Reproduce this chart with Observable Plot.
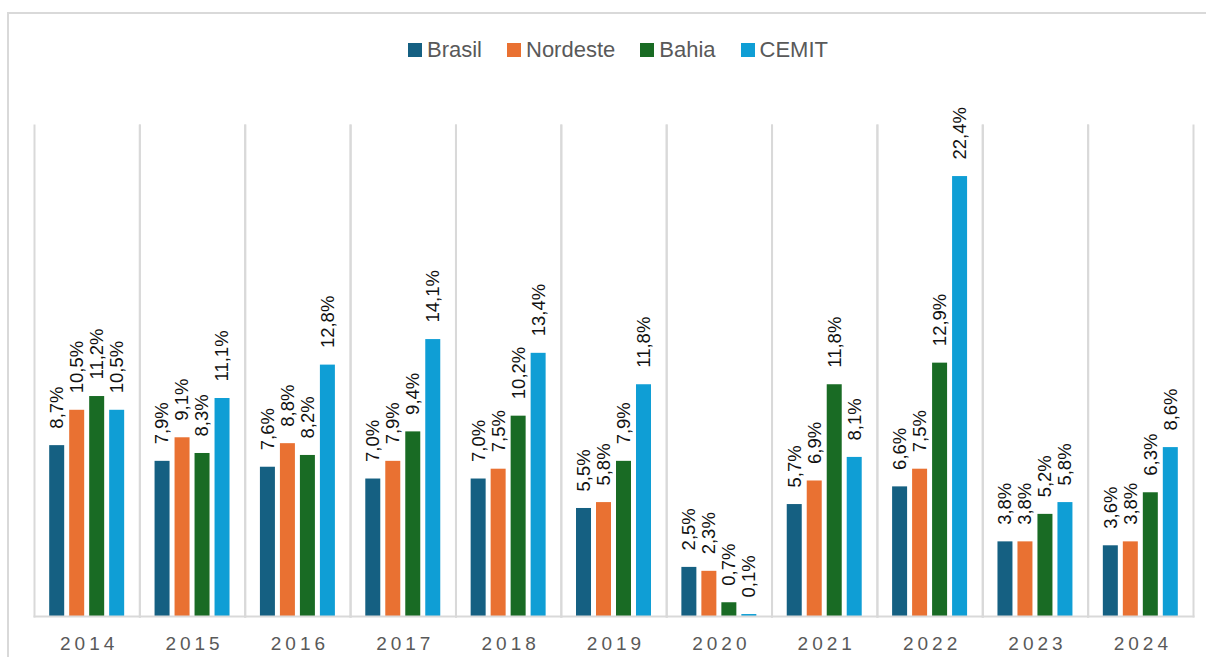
<!DOCTYPE html>
<html>
<head>
<meta charset="utf-8">
<script src="https://cdn.jsdelivr.net/npm/d3@7"></script>
<script src="https://cdn.jsdelivr.net/npm/@observablehq/plot@0.6"></script>
<style>
  html, body { margin: 0; padding: 0; background: #fff; width: 1206px; height: 657px; overflow: hidden; }
  #border { position: absolute; left: 7px; top: 12px; width: 1300px; height: 700px; border: 2px solid #d9d9d9; box-sizing: border-box; }
  #legend { position: absolute; left: 0; top: 37px; width: 1236px; display: flex; justify-content: center; gap: 25px;
            font-family: "Liberation Sans", Arial, sans-serif; font-size: 22px; color: #595959; }
  #legend .item { display: flex; align-items: center; gap: 5px; }
  #legend .sw { width: 14px; height: 14px; display: inline-block; }
  #chart { position: absolute; left: 0; top: 0; }
  #chart g[aria-label="fx-axis tick label"] text { letter-spacing: 4px; }
</style>
</head>
<body>
<div id="border"></div>
<div id="legend"></div>
<div id="chart"></div>
<script>
const years = ["2014","2015","2016","2017","2018","2019","2020","2021","2022","2023","2024"];
const seriesNames = ["Brasil","Nordeste","Bahia","CEMIT"];
const colors = ["#156082","#E97132","#196B24","#0F9ED5"];
const brasil   = [8.7, 7.9, 7.6, 7.0, 7.0, 5.5, 2.5, 5.7, 6.6, 3.8, 3.6];
const nordeste = [10.5, 9.1, 8.8, 7.9, 7.5, 5.8, 2.3, 6.9, 7.5, 3.8, 3.8];
const bahia    = [11.2, 8.3, 8.2, 9.4, 10.2, 7.9, 0.7, 11.8, 12.9, 5.2, 6.3];
const cemit    = [10.5, 11.1, 12.8, 14.1, 13.4, 11.8, 0.1, 8.1, 22.4, 5.8, 8.6];

const seriesValues = [brasil, nordeste, bahia, cemit];
const data = [];
years.forEach((y, i) => {
  seriesNames.forEach((s, j) => data.push({year: y, series: s, value: seriesValues[j][i]}));
});
const fmt = v => v.toFixed(1).replace(".", ",") + "%";

// legend
const legend = document.getElementById("legend");
seriesNames.forEach((s, j) => {
  const it = document.createElement("div");
  it.className = "item";
  it.innerHTML = `<span class="sw" style="background:${colors[j]}"></span><span>${s}</span>`;
  legend.appendChild(it);
});

const chart = Plot.plot({
  width: 1206,
  height: 657,
  marginTop: 125,
  marginBottom: 41,
  marginLeft: 34,
  marginRight: 13,
  style: {fontFamily: "'Liberation Sans', Arial, sans-serif", background: "transparent"},
  fx: {domain: years, padding: 0, round: false, label: null},
  x: {domain: seriesNames, paddingInner: 0.25, paddingOuter: 0.76, round: false, axis: null},
  y: {domain: [0, 25], axis: null},
  color: {domain: seriesNames, range: colors},
  marks: [
    Plot.barY(data, {fx: "year", x: "series", y: "value", fill: "series"}),
    Plot.text(data, {fx: "year", x: "series", y: "value", text: d => fmt(d.value),
      rotate: -90, textAnchor: "start", lineAnchor: "middle", dy: -17,
      fontSize: 18.5, fill: "#111"}),
    Plot.frame({anchor: "left", stroke: "#d9d9d9", strokeWidth: 2}),
    Plot.frame({anchor: "right", stroke: "#d9d9d9", strokeWidth: 2}),
    Plot.frame({anchor: "bottom", stroke: "#d9d9d9", strokeWidth: 2}),
    Plot.axisFx({anchor: "bottom", tickSize: 0, tickPadding: 20, fontSize: 19, fill: "#595959", dx: 2, label: null})
  ]
});
document.getElementById("chart").appendChild(chart);
</script>
</body>
</html>
